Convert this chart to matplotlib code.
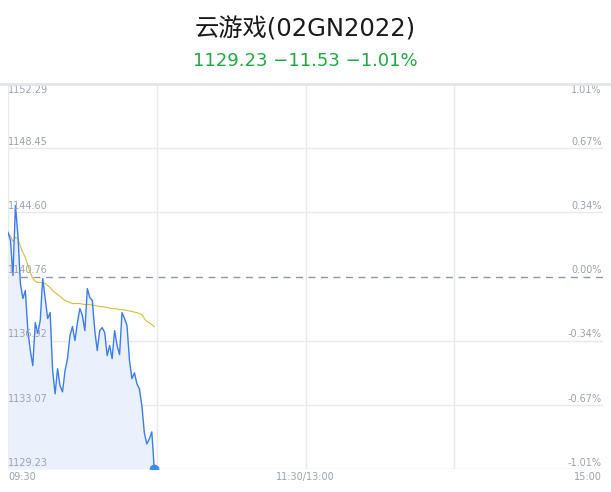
import matplotlib
matplotlib.use("Agg")
from matplotlib import pyplot as plt
from matplotlib.lines import Line2D

plt.rcParams['font.family'] = ['DejaVu Sans', 'Noto Sans CJK SC']

# header
title = "云游戏(02GN2022)"
last_price = 1129.23
change = -11.53
change_pct = -1.01
prev_close = 1140.76

# axis labels
price_ticks = [1152.29, 1148.45, 1144.60, 1140.76, 1136.92, 1133.07, 1129.23]
pct_labels = ["1.01%", "0.67%", "0.34%", "0.00%", "-0.34%", "-0.67%", "-1.01%"]
time_ticks = [0, 120, 240]
time_labels = ["09:30", "11:30/13:00", "15:00"]
total_minutes = 240

# minute prices (09:30 onwards)
price = [1143.40, 1142.92, 1140.82, 1145.02, 1143.22, 1140.34, 1139.44, 1139.92,
         1137.52, 1136.32, 1135.42, 1138.00, 1137.34, 1138.12, 1140.64, 1139.44,
         1138.24, 1138.60, 1135.12, 1133.73, 1135.24, 1134.21, 1133.85, 1135.12,
         1135.84, 1137.22, 1137.76, 1136.92, 1138.00, 1138.84, 1138.42, 1137.52,
         1140.04, 1139.50, 1139.32, 1137.52, 1136.32, 1137.52, 1137.70, 1137.40,
         1136.02, 1136.62, 1135.84, 1137.52, 1136.62, 1136.08, 1138.60, 1138.24,
         1137.82, 1135.72, 1134.64, 1134.99, 1134.33, 1134.03, 1133.02, 1131.39,
         1130.73, 1131.03, 1131.45, 1129.23]

# average price line
avg_price = [1143.40, 1143.16, 1142.86, 1143.10, 1143.04, 1142.56, 1142.20, 1141.90,
             1141.42, 1141.00, 1140.64, 1140.46, 1140.40, 1140.40, 1140.40, 1140.34,
             1140.22, 1140.10, 1139.92, 1139.80, 1139.68, 1139.56, 1139.44, 1139.32,
             1139.26, 1139.20, 1139.14, 1139.14, 1139.14, 1139.14, 1139.11, 1139.08,
             1139.08, 1139.08, 1139.05, 1139.02, 1138.99, 1138.96, 1138.96, 1138.93,
             1138.90, 1138.87, 1138.84, 1138.84, 1138.81, 1138.78, 1138.78, 1138.75,
             1138.72, 1138.69, 1138.66, 1138.63, 1138.60, 1138.54, 1138.48, 1138.24,
             1138.06, 1138.00, 1137.88, 1137.76]

minutes = list(range(len(price)))

fig = plt.figure(figsize=(6.11, 4.92), dpi=100)
ax = fig.add_axes([8 / 611, 23 / 492, 595 / 611, 385 / 492])

grid_color = "#e7e9ef"
label_color = "#9ba1b2"

ax.set_xlim(0, total_minutes)
ax.set_ylim(price_ticks[-1], price_ticks[0])
for s in ax.spines.values():
    s.set_visible(False)
ax.set_xticks([])
ax.set_yticks([])

# grid
for p in price_ticks:
    if p == prev_close:
        continue
    ax.axhline(p, color=grid_color, lw=1, zorder=0)
for t in [0, 60, 120, 180]:
    ax.axvline(t, color=grid_color, lw=1, zorder=0)
ax.axhline(prev_close, color="#8e97b0", lw=1, ls=(0, (5, 4)), zorder=1)

# top separator across the figure
fig.add_artist(Line2D([0, 1], [408 / 492, 408 / 492], color="#e4e5ea", lw=2))

# price and average
ax.fill_between(minutes, price, price_ticks[-1], color="#eaf1fc", lw=0, zorder=1)
ax.plot(minutes, price, color="#3a7cf2", lw=1.0, zorder=3)
ax.plot(minutes, avg_price, color="#d7bf35", lw=0.8, zorder=2)
ax.plot(minutes[-1], price[-1], "o", color="#3a8af5", ms=6, zorder=4)

# y labels
for i, (p, lab) in enumerate(zip(price_ticks, pct_labels)):
    va = "top" if i == 0 else "bottom"
    dy = -1 if i == 0 else 1
    ax.annotate("%.2f" % p, (0, p), xytext=(0, dy), textcoords="offset points",
                ha="left", va=va, fontsize=7, color=label_color)
    ax.annotate(lab, (total_minutes, p), xytext=(-1, dy), textcoords="offset points",
                ha="right", va=va, fontsize=7, color=label_color)

# x labels
aligns = ["left", "center", "right"]
for t, lab, ha in zip(time_ticks, time_labels, aligns):
    dx = -1 if ha == "right" else 0
    ax.annotate(lab, (t, price_ticks[-1]), xytext=(dx, -2), textcoords="offset points",
                ha=ha, va="top", fontsize=7, color=label_color)

# header text
fig.text(0.5, 1 - 29 / 492, title, ha="center", va="center", fontsize=17.5,
         color="#1a1a1c")
sub = "%.2f \u2212%.2f \u2212%.2f%%" % (last_price, abs(change), abs(change_pct))
fig.text(0.5, 1 - 61 / 492, sub, ha="center", va="center", fontsize=13,
         color="#1faa3f")

fig.savefig("out.png", dpi=100)
